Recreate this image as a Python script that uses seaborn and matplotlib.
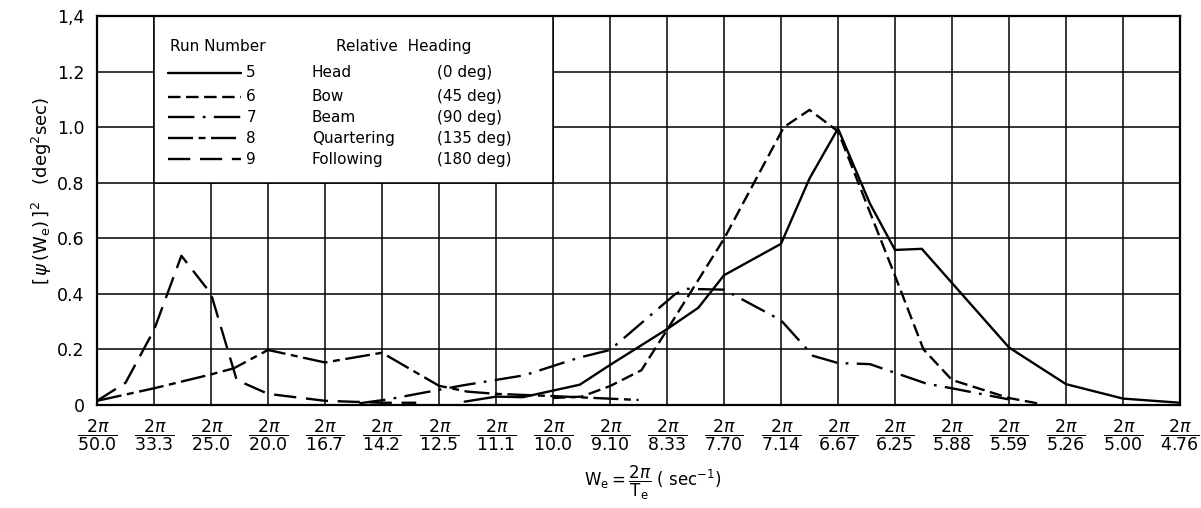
import numpy as np
import pandas as pd
import matplotlib
matplotlib.use("Agg")
import matplotlib.pyplot as plt
import seaborn as sns
from matplotlib.patches import Rectangle
from matplotlib.lines import Line2D

# ---- data (x = encounter frequency in cycles per 100 s, omega_e = 2*pi*n/100) ----
run5_n = [8.45, 9.0, 9.47, 10.47, 11.0, 12.0, 12.55, 13.0, 14.0, 14.5, 15.0, 15.56, 16.0, 16.47, 18.0, 19.0, 20.0, 21.0]
run5_y = [0.012, 0.030, 0.028, 0.073, 0.144, 0.273, 0.350, 0.467, 0.580, 0.815, 0.995, 0.725, 0.558, 0.562, 0.207, 0.075, 0.023, 0.008]

run6_n = [10.0, 10.5, 11.0, 11.55, 12.0, 13.0, 14.05, 14.5, 15.0, 16.0, 16.5, 17.0, 18.0, 18.5]
run6_y = [0.025, 0.030, 0.068, 0.125, 0.270, 0.598, 1.000, 1.062, 0.985, 0.465, 0.200, 0.090, 0.025, 0.006]

run7_n = [6.6, 7.1, 8.4, 9.5, 10.45, 11.0, 12.15, 12.35, 13.0, 14.0, 14.56, 15.0, 15.56, 16.55, 17.0, 18.0]
run7_y = [0.006, 0.020, 0.070, 0.107, 0.170, 0.198, 0.400, 0.418, 0.415, 0.305, 0.177, 0.151, 0.147, 0.077, 0.060, 0.020]

run8_n = [2.0, 3.0, 4.0, 4.4, 5.0, 6.0, 7.0, 8.0, 8.5, 9.0, 10.0, 11.5]
run8_y = [0.015, 0.060, 0.110, 0.132, 0.198, 0.153, 0.188, 0.069, 0.048, 0.040, 0.032, 0.018]

run9_n = [2.0, 2.5, 3.0, 3.48, 4.0, 4.45, 5.0, 6.0, 7.0, 7.6]
run9_y = [0.015, 0.080, 0.270, 0.537, 0.400, 0.090, 0.040, 0.015, 0.008, 0.008]

run_numbers = ["5", "6", "7", "8", "9"]
headings = ["Head", "Bow", "Beam", "Quartering", "Following"]
heading_deg = ["(0 deg)", "(45 deg)", "(90 deg)", "(135 deg)", "(180 deg)"]

period_labels = ["50.0", "33.3", "25.0", "20.0", "16.7", "14.2", "12.5", "11.1", "10.0", "9.10",
                 "8.33", "7.70", "7.14", "6.67", "6.25", "5.88", "5.59", "5.26", "5.00", "4.76"]
y_ticks = [0.0, 0.2, 0.4, 0.6, 0.8, 1.0, 1.2, 1.4]
y_ticklabels = ["0", "0.2", "0.4", "0.6", "0.8", "1.0", "1.2", "1,4"]

# ---- build table ----
series = {"5": (run5_n, run5_y), "6": (run6_n, run6_y), "7": (run7_n, run7_y),
          "8": (run8_n, run8_y), "9": (run9_n, run9_y)}
frames = []
for run, (n, y) in series.items():
    frames.append(pd.DataFrame({"omega": 2 * np.pi * np.asarray(n) / 100.0,
                                "psi2": y, "run": run}))
df = pd.concat(frames, ignore_index=True)

# ---- style ----
sns.set_theme(style="white")
plt.rcParams["font.family"] = ["DejaVu Sans"]
plt.rcParams["lines.scale_dashes"] = False
plt.rcParams["mathtext.fontset"] = "dejavusans"
plt.rcParams["text.color"] = "black"
plt.rcParams["axes.labelcolor"] = "black"
plt.rcParams["xtick.color"] = "black"
plt.rcParams["ytick.color"] = "black"

dash_styles = ["", (9, 4), (19, 6, 2, 6), (18, 4, 5, 4), (16, 7)]
line_w = 1.7
grid_w = 1.1

fig = plt.figure(figsize=(12.01, 5.08), dpi=100)
ax = fig.add_axes([0.0808, 0.2028, 0.9017, 0.7657])

sns.lineplot(data=df, x="omega", y="psi2", hue="run", style="run",
             hue_order=run_numbers, style_order=run_numbers,
             palette=["black"] * 5, dashes=dash_styles,
             estimator=None, sort=False, legend=False, linewidth=line_w, ax=ax)
for ln in ax.get_lines():
    ln.set_zorder(3)

tick_n = np.arange(2, 22)
tick_omega = 2 * np.pi * tick_n / 100.0
ax.set_xlim(tick_omega[0], tick_omega[-1])
ax.set_ylim(0, 1.4)
ax.set_xticks(tick_omega)
ax.set_xticklabels([r"$\dfrac{2\pi}{%s}$" % p for p in period_labels], fontsize=12.5)
ax.set_yticks(y_ticks)
ax.set_yticklabels(y_ticklabels, fontsize=12.5)
ax.tick_params(axis="both", length=0)
ax.tick_params(axis="x", pad=9)
ax.tick_params(axis="y", pad=9)

ax.set_axisbelow(True)
ax.grid(True, color="black", linewidth=grid_w)
for sp in ax.spines.values():
    sp.set_visible(True)
    sp.set_color("black")
    sp.set_linewidth(1.6)

ax.set_xlabel(r"$\mathrm{W_e} = \dfrac{2\pi}{\mathrm{T_e}}$ ( sec$^{-1}$)", fontsize=12)
ax.xaxis.set_label_coords(0.513, -0.15)
ax.set_ylabel(r"$\left[\,\psi\,(\mathrm{W_e})\,\right]^2$   (deg$^2$sec)", fontsize=13)
ax.yaxis.set_label_coords(-0.04, 0.55)

# ---- legend box (custom table) ----
nx = len(period_labels) - 1
def fx(i):
    return i / nx
def fy(v):
    return v / 1.4

box = Rectangle((fx(1), fy(0.8)), fx(8) - fx(1), fy(1.4) - fy(0.8), transform=ax.transAxes,
                facecolor="white", edgecolor="black", linewidth=grid_w, zorder=2)
ax.add_patch(box)

legend_fs = 11
ax.text(fx(1.28), fy(1.29), "Run Number", transform=ax.transAxes, fontsize=legend_fs,
        ha="left", va="center", zorder=4)
ax.text(fx(4.2), fy(1.29), "Relative  Heading", transform=ax.transAxes, fontsize=legend_fs,
        ha="left", va="center", zorder=4)
row_y = [1.195, 1.11, 1.035, 0.96, 0.885]
for k, run in enumerate(run_numbers):
    yy = fy(row_y[k])
    ln = Line2D([fx(1.24), fx(2.52)], [yy, yy], transform=ax.transAxes, color="black",
                linewidth=line_w, zorder=4)
    if dash_styles[k]:
        ln.set_dashes(dash_styles[k])
    ax.add_line(ln)
    ax.text(fx(2.62), yy, run, transform=ax.transAxes, fontsize=legend_fs,
            ha="left", va="center", zorder=4)
    ax.text(fx(3.77), yy, headings[k], transform=ax.transAxes, fontsize=legend_fs,
            ha="left", va="center", zorder=4)
    ax.text(fx(5.97), yy, heading_deg[k], transform=ax.transAxes, fontsize=legend_fs,
            ha="left", va="center", zorder=4)

fig.savefig("out.png", dpi=100)
